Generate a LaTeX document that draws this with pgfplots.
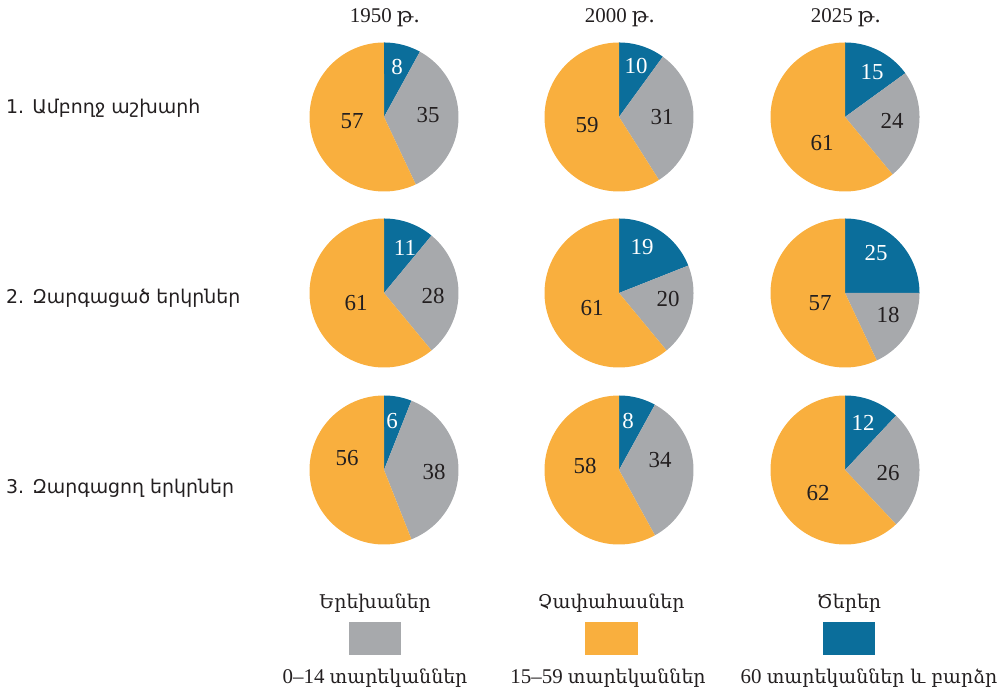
\documentclass[border=0pt]{standalone}
\usepackage{fontspec}
\usepackage{pgfplots}
\pgfplotsset{compat=1.18}
\setmainfont{Liberation Serif}
\newfontfamily\armsans{DejaVu Sans}
\newfontfamily\armserif{DejaVu Serif}
\definecolor{cblue}{HTML}{0B6E9B}
\definecolor{cgray}{HTML}{A7A9AC}
\definecolor{corange}{HTML}{F9AF3E}
\definecolor{ctext}{HTML}{231F20}
% one pie: center x, center y, blue (60+), gray (0-14), orange (15-59)
\newcommand{\pie}[5]{%
  \addplot[fill=cblue, draw=none, domain=0:#3, samples=40, variable=\t]
    ({#1+74.5*sin(3.6*\t)},{#2+74.5*cos(3.6*\t)}) -- (axis cs:#1,#2) -- cycle;
  \addplot[fill=cgray, draw=none, domain=#3:#3+#4, samples=60, variable=\t]
    ({#1+74.5*sin(3.6*\t)},{#2+74.5*cos(3.6*\t)}) -- (axis cs:#1,#2) -- cycle;
  \addplot[fill=corange, draw=none, domain=#3+#4:100, samples=100, variable=\t]
    ({#1+74.5*sin(3.6*\t)},{#2+74.5*cos(3.6*\t)}) -- (axis cs:#1,#2) -- cycle;
}
\newcommand{\lab}[4]{%
  \node[text=#4, font=\fontsize{23}{26}\selectfont, inner sep=0pt] at (axis cs:{#1},{#2}) {#3};
}
\begin{document}
\begin{tikzpicture}
\begin{axis}[
  width=1006bp, height=693bp, scale only axis,
  xmin=0, xmax=1006, ymin=0, ymax=693,
  hide axis, clip=false,
]
\draw[draw=none] (axis cs:0,0) rectangle (axis cs:1006,693);
% row 1 (whole world)
\pie{384}{576}{8}{35}{57}
\pie{619}{576}{10}{31}{59}
\pie{845}{576}{15}{24}{61}
% row 2 (developed)
\pie{384}{400}{11}{28}{61}
\pie{619}{400}{19}{20}{61}
\pie{845}{400}{25}{18}{57}
% row 3 (developing)
\pie{384}{223}{6}{38}{56}
\pie{619}{223}{8}{34}{58}
\pie{845}{223}{12}{26}{62}
% value labels
\lab{384+13}{576+50}{8}{white}
\lab{384+44}{576+2}{35}{ctext}
\lab{384-32}{576-4}{57}{ctext}
\lab{619+17}{576+51}{10}{white}
\lab{619+43}{576+0}{31}{ctext}
\lab{619-32}{576-8}{59}{ctext}
\lab{845+27}{576+45}{15}{white}
\lab{845+47}{576-4}{24}{ctext}
\lab{845-23}{576-26}{61}{ctext}
\lab{384+21}{400+45}{11}{white}
\lab{384+49}{400-3}{28}{ctext}
\lab{384-28}{400-10}{61}{ctext}
\lab{619+23}{400+46}{19}{white}
\lab{619+49}{400-6}{20}{ctext}
\lab{619-27}{400-15}{61}{ctext}
\lab{845+31}{400+40}{25}{white}
\lab{845+43}{400-22}{18}{ctext}
\lab{845-25}{400-10}{57}{ctext}
\lab{384+8}{223+49}{6}{white}
\lab{384+50}{223-2}{38}{ctext}
\lab{384-37}{223+12}{56}{ctext}
\lab{619+9}{223+49}{8}{white}
\lab{619+41}{223+10}{34}{ctext}
\lab{619-34}{223+4}{58}{ctext}
\lab{845+18}{223+47}{12}{white}
\lab{845+43}{223-3}{26}{ctext}
\lab{845-27}{223-23}{62}{ctext}
% column headers
\node[text=ctext, font=\fontsize{21}{24}\selectfont, inner sep=0pt] at (axis cs:385,675) {1950 {\armserif թ.}};
\node[text=ctext, font=\fontsize{21}{24}\selectfont, inner sep=0pt] at (axis cs:620,675) {2000 {\armserif թ.}};
\node[text=ctext, font=\fontsize{21}{24}\selectfont, inner sep=0pt] at (axis cs:846,675) {2025 {\armserif թ.}};
% row labels
\node[text=ctext, font=\armsans\fontsize{19}{22}\selectfont, anchor=west, inner sep=0pt] at (axis cs:6,585) {1. Ամբողջ աշխարհ};
\node[text=ctext, font=\armsans\fontsize{19}{22}\selectfont, anchor=west, inner sep=0pt] at (axis cs:6,395) {2. Զարգացած երկրներ};
\node[text=ctext, font=\armsans\fontsize{19}{22}\selectfont, anchor=west, inner sep=0pt] at (axis cs:6,205) {3. Զարգացող երկրներ};
% legend
\fill[cgray] (axis cs:349,38) rectangle (axis cs:401,71);
\fill[corange] (axis cs:585,38) rectangle (axis cs:638,71);
\fill[cblue] (axis cs:823,38) rectangle (axis cs:875,71);
\node[text=ctext, font=\armserif\fontsize{19}{22}\selectfont, inner sep=0pt] at (axis cs:375,90) {Երեխաներ};
\node[text=ctext, font=\armserif\fontsize{19}{22}\selectfont, inner sep=0pt] at (axis cs:611,90) {Չափահասներ};
\node[text=ctext, font=\armserif\fontsize{19}{22}\selectfont, inner sep=0pt] at (axis cs:849,90) {Ծերեր};
\node[text=ctext, font=\fontsize{21}{22}\selectfont, inner sep=0pt] at (axis cs:375,15) {0–14 {\armserif\fontsize{19}{22}\selectfont տարեկաններ}};
\node[text=ctext, font=\fontsize{21}{22}\selectfont, inner sep=0pt] at (axis cs:608,15) {15–59 {\armserif\fontsize{19}{22}\selectfont տարեկաններ}};
\node[text=ctext, font=\fontsize{21}{22}\selectfont, inner sep=0pt] at (axis cs:869,15) {60 {\armserif\fontsize{19}{22}\selectfont տարեկաններ և բարձր}};
\end{axis}
\end{tikzpicture}
\end{document}
